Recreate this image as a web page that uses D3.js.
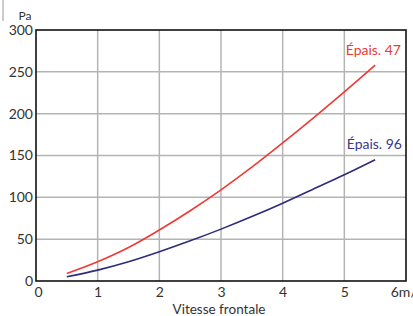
<!DOCTYPE html>
<html>
<head>
<meta charset="utf-8">
<script src="https://cdn.jsdelivr.net/npm/d3@7"></script>
<style>
  body { margin: 0; background: #fff; }
  text { font-family: Lato, "Open Sans", sans-serif; fill: #333; }
</style>
</head>
<body>
<svg id="chart" width="413" height="316"></svg>
<script>
// values
var speeds = [0.5, 1, 1.5, 2, 2.5, 3, 3.5, 4, 4.5, 5, 5.5];
var epais47 = [9, 23, 40, 61, 84, 109, 136, 165, 195, 226, 258];
var epais96 = [5, 13, 23, 35, 48, 62, 77, 93, 110, 127, 145];
var xTicks = [0, 1, 2, 3, 4, 5, 6];
var xTickLabels = ['0', '1', '2', '3', '4', '5', '6m/s'];
var yTicks = [0, 50, 100, 150, 200, 250, 300];

(function () {
  var svg = d3.select('#chart');
  var plotL = 36, plotR = 406, plotT = 30, plotB = 281;

  var x = d3.scaleLinear().domain([0, 6]).range([plotL, plotR]);
  var y = d3.scaleLinear().domain([0, 300]).range([plotB, plotT]);

  // small stray mark top left
  svg.append('line').attr('x1', 3).attr('x2', 3).attr('y1', 0).attr('y2', 21)
    .attr('stroke', '#999').attr('stroke-width', 1);

  // grid
  svg.append('g').selectAll('line').data(xTicks.slice(1, -1)).enter().append('line')
    .attr('x1', function(d) { return x(d); }).attr('x2', function(d) { return x(d); })
    .attr('y1', plotT).attr('y2', plotB)
    .attr('stroke', '#b4b4b4').attr('stroke-width', 1.5);
  svg.append('g').selectAll('line').data(yTicks.slice(1, -1)).enter().append('line')
    .attr('y1', function(d) { return y(d); }).attr('y2', function(d) { return y(d); })
    .attr('x1', plotL).attr('x2', plotR)
    .attr('stroke', '#b4b4b4').attr('stroke-width', 1.5);

  // frame
  svg.append('rect').attr('x', plotL).attr('y', plotT)
    .attr('width', plotR - plotL).attr('height', plotB - plotT)
    .attr('fill', 'none').attr('stroke', '#111').attr('stroke-width', 1.6);

  // axes labels
  var xAxis = d3.axisBottom(x).tickValues(xTicks).tickSize(0).tickPadding(6)
    .tickFormat(function(d, i) { return xTickLabels[i]; });
  var gx = svg.append('g').attr('transform', 'translate(0,' + plotB + ')').call(xAxis);
  gx.select('.domain').remove();
  gx.selectAll('text').attr('font-size', 14).attr('fill', '#333')
    .attr('font-family', 'Lato, "Open Sans", sans-serif')
    .attr('dx', function(d) { return d === 0 ? 2 : 0; });

  var yAxis = d3.axisLeft(y).tickValues(yTicks).tickSize(0).tickPadding(3);
  var gy = svg.append('g').attr('transform', 'translate(' + plotL + ',0)').call(yAxis);
  gy.select('.domain').remove();
  gy.selectAll('text').attr('font-size', 14).attr('fill', '#333')
    .attr('font-family', 'Lato, "Open Sans", sans-serif');

  svg.append('text').attr('x', 25).attr('y', 20).attr('text-anchor', 'middle')
    .attr('font-size', 12).text('Pa');
  svg.append('text').attr('x', 219).attr('y', 314).attr('text-anchor', 'middle')
    .attr('font-size', 13.5).text('Vitesse frontale');

  // curves
  var line = d3.line()
    .x(function(d, i) { return x(speeds[i]); })
    .y(function(d) { return y(d); })
    .curve(d3.curveMonotoneX);

  svg.append('path').datum(epais47).attr('d', line)
    .attr('fill', 'none').attr('stroke', '#ee3a36').attr('stroke-width', 1.6);
  svg.append('path').datum(epais96).attr('d', line)
    .attr('fill', 'none').attr('stroke', '#2e2b7e').attr('stroke-width', 1.6);

  svg.append('text').attr('x', 401).attr('y', 55).attr('text-anchor', 'end')
    .attr('font-size', 14).style('fill', '#ee3a36').text('Épais. 47');
  svg.append('text').attr('x', 402).attr('y', 149).attr('text-anchor', 'end')
    .attr('font-size', 14).style('fill', '#3a3789').text('Épais. 96');
})();
</script>
</body>
</html>
